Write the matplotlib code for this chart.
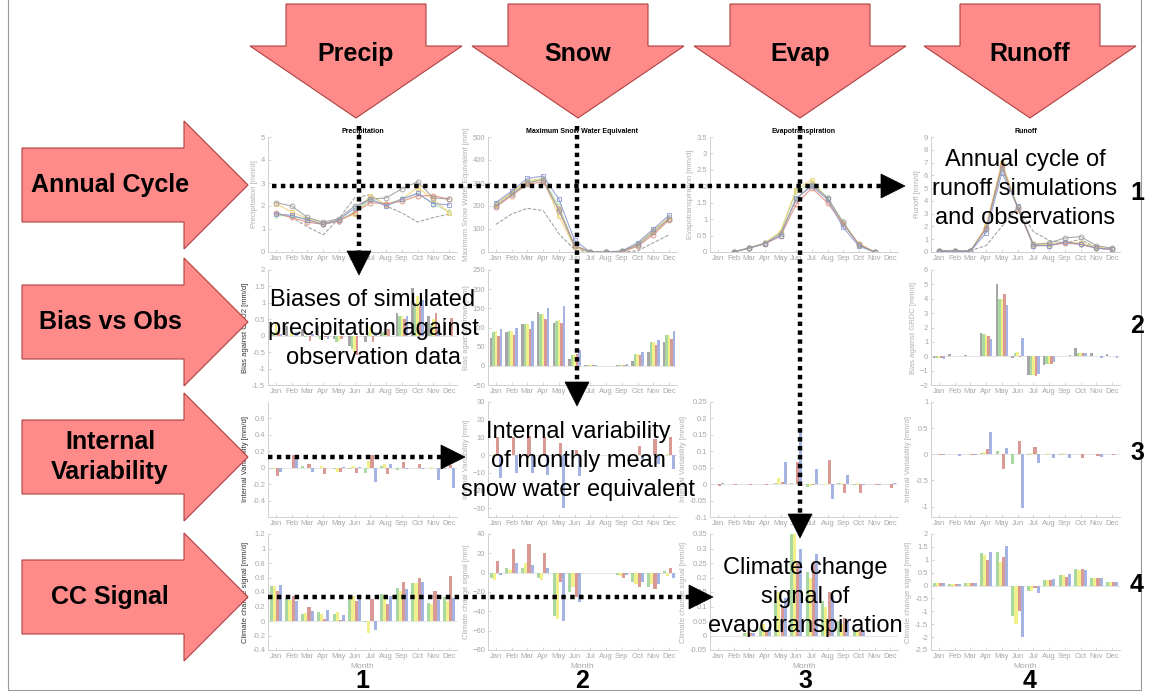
import matplotlib
matplotlib.use('Agg')
import matplotlib.pyplot as plt
from matplotlib.patches import Polygon
import numpy as np

plt.rcParams['font.family'] = ['Liberation Sans', 'DejaVu Sans']

months = ['Jan', 'Feb', 'Mar', 'Apr', 'May', 'Jun', 'Jul', 'Aug', 'Sep', 'Oct', 'Nov', 'Dec']
nan = np.nan

# ---------------- Row 1: annual cycles (lines) ----------------
precip_gray = [2.15, 2.0, 1.5, 1.3, 1.45, 2.0, 2.3, 2.35, 2.75, 3.05, 2.35, 2.3]
precip_blue = [1.65, 1.6, 1.4, 1.2, 1.4, 1.9, 2.3, 2.0, 2.3, 2.55, 2.1, 2.05]
precip_red = [1.7, 1.5, 1.3, 1.2, 1.35, 1.7, 2.15, 2.1, 2.2, 2.45, 2.45, 2.3]
precip_green = [1.6, 1.55, 1.4, 1.2, 1.35, 1.75, 2.25, 2.05, 2.3, 2.55, 2.1, 1.75]
precip_yellow = [2.1, 1.75, 1.45, 1.25, 1.4, 1.65, 2.45, 2.05, 2.3, 2.8, 2.3, 1.7]
precip_obs = [1.7, 1.5, 1.1, 0.75, 1.45, 2.35, 2.5, 2.0, 1.7, 1.3, 1.5, 1.65]

snow_gray = [200, 250, 300, 315, 180, 25, 0, 0, 3, 30, 85, 145]
snow_blue = [215, 265, 320, 330, 230, 50, 0, 0, 5, 40, 100, 160]
snow_red = [195, 245, 295, 305, 185, 30, 0, 0, 0, 25, 75, 140]
snow_green = [210, 255, 305, 315, 200, 25, 0, 0, 3, 35, 90, 145]
snow_yellow = [205, 260, 310, 320, 155, 20, 0, 0, 0, 35, 95, 150]
snow_obs = [120, 165, 190, 180, 80, 10, 0, 0, 0, 5, 40, 75]

evap_gray = [nan, 0.0, 0.12, 0.26, 0.55, 1.6, 2.05, 1.65, 0.9, 0.22, 0.0, nan]
evap_blue = [nan, 0.0, 0.12, 0.25, 0.5, 1.65, 2.0, 1.6, 0.75, 0.18, 0.0, nan]
evap_red = [nan, 0.0, 0.12, 0.25, 0.48, 1.45, 1.95, 1.5, 0.85, 0.25, 0.0, nan]
evap_green = [nan, 0.0, 0.13, 0.27, 0.6, 1.85, 2.1, 1.65, 0.9, 0.22, 0.0, nan]
evap_yellow = [nan, 0.0, 0.13, 0.27, 0.62, 1.9, 2.2, 1.6, 0.85, 0.25, 0.0, nan]

runoff_gray = [0.1, 0.1, 0.1, 1.8, 6.6, 3.5, 0.6, 0.7, 1.1, 1.2, 0.5, 0.3]
runoff_blue = [0.05, 0.05, 0.05, 1.5, 6.2, 3.6, 0.5, 0.5, 0.8, 0.6, 0.3, 0.2]
runoff_red = [0.1, 0.05, 0.05, 1.9, 6.8, 3.4, 0.5, 0.5, 0.7, 0.6, 0.3, 0.2]
runoff_green = [0.1, 0.05, 0.05, 1.95, 6.9, 3.5, 0.55, 0.55, 0.75, 0.65, 0.35, 0.2]
runoff_yellow = [0.1, 0.05, 0.05, 2.0, 7.0, 3.5, 0.6, 0.6, 0.8, 0.7, 0.4, 0.2]
runoff_obs = [0.05, 0.05, 0.1, 0.5, 2.0, 3.5, 1.6, 0.9, 0.7, 1.0, 0.3, 0.2]

# ---------------- Row 2: bias vs obs (gray, green, yellow, red, blue) ----------------
bias_precip = [
    [0.4, 0.3, 0.2, 0.3, -0.1, -0.3, -0.2, 0.3, 0.7, 1.45, 0.6, 0.55],
    [0.1, 0.0, -0.05, -0.1, -0.2, -0.4, 0.1, 0.1, 0.6, 1.0, 0.3, 0.0],
    [0.4, 0.1, 0.0, 0.0, -0.15, -0.5, 0.3, 0.1, 0.6, 1.2, 0.5, 0.0],
    [0.1, 0.0, -0.15, -0.05, -0.1, -0.6, -0.2, 0.2, 0.5, 0.9, 0.7, 0.55],
    [0.05, 0.1, 0.05, -0.1, 0.0, 0.0, 0.1, 0.0, 0.6, 1.1, 0.2, 0.0],
]
bias_snow = [
    [73, 88, 110, 140, 113, 18, 1, 0, 1, 12, 37, 62],
    [87, 90, 108, 135, 118, 27, 1, 0, 3, 32, 63, 80],
    [90, 92, 108, 135, 120, 28, 1, 0, 3, 32, 63, 80],
    [77, 80, 95, 122, 113, 30, 1, 0, 3, 28, 55, 70],
    [95, 100, 117, 150, 155, 42, 1, 0, 4, 35, 68, 90],
]
bias_runoff = [
    [-0.1, 0.15, 0.1, 1.65, 5.0, -0.15, -1.3, -0.6, 0.0, 0.6, 0.25, 0.15],
    [-0.15, 0.05, 0.05, 1.55, 4.0, 0.2, -1.3, -0.55, 0.0, 0.25, 0.0, 0.0],
    [-0.15, 0.05, 0.05, 1.5, 3.95, 0.3, -1.3, -0.55, 0.0, 0.25, 0.0, 0.0],
    [-0.15, 0.05, 0.05, 1.4, 4.3, -0.05, -1.35, -0.55, 0.0, 0.25, 0.0, 0.0],
    [-0.2, 0.05, 0.03, 1.2, 3.6, 1.25, -1.2, -0.4, 0.1, 0.2, -0.1, -0.1],
]

# ---------------- Row 3: internal variability (green, yellow, red, blue) ----------------
iv_precip = [
    [-0.02, 0.0, 0.02, 0.0, -0.02, -0.02, -0.06, 0.02, -0.03, 0.0, 0.0, -0.02],
    [-0.02, 0.0, 0.0, 0.02, -0.05, 0.02, 0.08, 0.04, 0.0, 0.0, 0.01, 0.0],
    [-0.1, 0.16, 0.05, -0.08, -0.05, -0.07, 0.15, -0.08, 0.07, 0.04, 0.0, 0.03],
    [-0.05, 0.12, -0.05, 0.0, 0.01, 0.01, -0.18, 0.05, -0.01, -0.02, -0.15, -0.25],
]
iv_snow = [
    [0, 0, 0, 0, 0, 0, 0, 0, 0, 0, 0, 0],
    [0.5, 0, 0, 0, 0, 0, 0, 0, 0, 0, 0, 0.5],
    [10, 10, 11, 10, 7, 3, 0, 0, 0, 5, 9, 10],
    [-13, -10, -10, -11, -30, -12, 0, 0, 0, -2, -5, -8],
]
iv_evap = [
    [0, 0, 0, 0, 0.003, 0.004, -0.01, 0, 0.002, -0.002, 0, 0],
    [0, 0, 0, 0, 0.018, 0, -0.005, -0.003, 0.003, 0.002, 0, 0],
    [-0.005, -0.003, -0.003, -0.004, 0.008, 0.068, -0.002, 0.073, -0.027, -0.027, -0.004, -0.012],
    [0.003, 0, 0, 0, 0.068, 0.17, 0.045, -0.045, 0.028, -0.003, -0.003, 0.003],
]
iv_runoff = [
    [0, 0, 0, 0.03, 0.06, -0.18, -0.02, 0, -0.02, 0, 0, 0],
    [0, 0, 0, 0.05, 0.0, 0, 0.02, 0.03, 0.02, 0.01, 0, 0],
    [-0.01, 0, -0.01, 0.11, -0.29, 0.25, 0.13, 0, 0, -0.07, -0.04, -0.02],
    [-0.01, -0.03, -0.01, 0.43, 0.12, -1.03, -0.16, -0.07, -0.07, 0.01, -0.05, 0],
]

# ---------------- Row 4: climate change signal (green, yellow, red, blue) ----------------
cc_precip = [
    [0.48, 0.32, 0.09, 0.12, 0.09, 0.36, -0.02, 0.37, 0.45, 0.52, 0.25, 0.33],
    [0.48, 0.29, 0.11, 0.10, 0.12, 0.35, -0.16, 0.36, 0.41, 0.53, 0.24, 0.28],
    [0.42, 0.35, 0.19, 0.03, 0.02, 0.27, 0.30, 0.24, 0.54, 0.59, 0.41, 0.62],
    [0.50, 0.27, 0.14, 0.15, 0.08, 0.32, -0.13, 0.35, 0.44, 0.54, 0.29, 0.32],
]
cc_snow = [
    [-5, 5, 5, -5, -45, -20, 0, 0, -2, -10, -15, 2],
    [-8, 3, 10, -8, -48, -15, 0, 0, -3, -12, -12, -3],
    [12, 25, 30, 20, -10, -25, 0, 0, -5, -15, -17, 5],
    [-2, 10, 8, 5, -50, -30, 0, 0, -2, -10, -12, -5],
]
cc_evap = [
    [0, 0, 0.01, 0.03, 0.12, 0.35, 0.22, 0.12, 0.05, 0.02, 0.0, 0.0],
    [0, 0, 0.01, 0.04, 0.15, 0.36, 0.20, 0.10, 0.04, 0.02, 0.0, 0.0],
    [0, 0, 0.01, 0.02, 0.10, 0.25, 0.25, 0.15, 0.06, 0.02, 0.0, 0.0],
    [0, 0, 0.01, 0.03, 0.13, 0.30, 0.28, 0.14, 0.05, 0.02, 0.0, 0.0],
]
cc_runoff = [
    [0.1, 0.05, 0.1, 1.25, 1.3, -1.2, -0.2, 0.2, 0.4, 0.65, 0.3, 0.15],
    [0.1, 0.05, 0.1, 1.2, 0.9, -1.5, -0.2, 0.2, 0.4, 0.6, 0.3, 0.15],
    [0.1, 0.05, 0.1, 1.0, 1.1, -1.0, -0.1, 0.2, 0.35, 0.65, 0.3, 0.15],
    [0.1, 0.05, 0.1, 1.3, 1.55, -2.0, -0.3, 0.25, 0.45, 0.6, 0.3, 0.15],
]

C_GRAY = '#a6a6a6'
C_GREEN = '#a9d9a0'
C_YELLOW = '#f2f08a'
C_RED = '#d99a95'
C_BLUE = '#a5b3e3'

W, H = 1149, 698
fig = plt.figure(figsize=(W / 100, H / 100), dpi=100)

col_x = [(268, 457), (488, 677), (710, 898), (931, 1120)]
row_y = [(137, 252), (270, 385), (402, 517), (534, 650)]
x = np.arange(1, 13)


def add_ax(r, c):
    x0, x1 = col_x[c]
    y0, y1 = row_y[r]
    ax = fig.add_axes([x0 / W, 1 - y1 / H, (x1 - x0) / W, (y1 - y0) / H])
    for s in ['top', 'right']:
        ax.spines[s].set_visible(False)
    for s in ['left', 'bottom']:
        ax.spines[s].set_color('#d0d0d0')
        ax.spines[s].set_linewidth(0.7)
    ax.tick_params(colors='#d0d0d0', labelcolor='#a8a8a8', labelsize=5.5,
                   length=2, width=0.6, direction='in', pad=2)
    ax.set_xlim(0.5, 12.5)
    ax.set_xticks(x)
    ax.set_xticklabels(months)
    return ax


def style_ylabel(ax, text, dark=False):
    ax.set_ylabel(text, fontsize=5.5, color='#333333' if dark else '#b0b0b0', labelpad=2)


# Row 1 lines
line_sets = [
    (precip_gray, precip_blue, precip_red, precip_green, precip_yellow, precip_obs, (0, 5), np.arange(0, 5.1, 1),
     'Precipitation', 'Precipitation [mm/d]'),
    (snow_gray, snow_blue, snow_red, snow_green, snow_yellow, snow_obs, (0, 500), np.arange(0, 501, 100),
     'Maximum Snow Water Equivalent', 'Maximum Snow Water Equivalent [mm]'),
    (evap_gray, evap_blue, evap_red, evap_green, evap_yellow, None, (0, 3.5), np.arange(0, 3.6, 0.5),
     'Evapotranspiration', 'Evapotranspiration [mm/d]'),
    (runoff_gray, runoff_blue, runoff_red, runoff_green, runoff_yellow, runoff_obs, (0, 9), np.arange(0, 9.1, 1),
     'Runoff', 'Runoff [mm/d]'),
]
for c, (g, b, r_, gr, y_, obs, ylim, yt, title, ylab) in enumerate(line_sets):
    ax = add_ax(0, c)
    if obs is not None:
        ax.plot(x, obs, '--', color='#999999', lw=0.7)
    kw = dict(lw=0.8, ms=3.5, mfc='none', mew=0.7, alpha=0.85)
    ax.plot(x, gr, '-d', color=C_GREEN, **kw)
    ax.plot(x, y_, '-s', color='#f0d070', **kw)
    ax.plot(x, r_, '-o', color='#e08878', **kw)
    ax.plot(x, b, '-s', color='#8898d4', **kw)
    ax.plot(x, g, '-o', color='#9a9a9a', **kw)
    ax.set_ylim(*ylim)
    ax.set_yticks(yt)
    ax.set_yticklabels(['%g' % v for v in yt])
    ax.set_title(title, fontsize=5, fontweight='bold', pad=3)
    style_ylabel(ax, ylab)


def bars(ax, series, colors, total=0.8):
    n = len(series)
    w = total / n
    for i, (vals, col) in enumerate(zip(series, colors)):
        ax.bar(x - total / 2 + w * (i + 0.5), vals, width=w, color=col, lw=0)
    ax.axhline(0, color='#e0e0e0', lw=0.6, zorder=0)


five = [C_GRAY, C_GREEN, C_YELLOW, C_RED, C_BLUE]
four = [C_GREEN, C_YELLOW, C_RED, C_BLUE]

# Row 2
ax = add_ax(1, 0)
bars(ax, bias_precip, five)
ax.set_ylim(-1.5, 2)
yt = np.arange(-1.5, 2.01, 0.5)
ax.set_yticks(yt); ax.set_yticklabels(['%g' % v for v in yt])
style_ylabel(ax, 'Bias against CRU2 [mm/d]', dark=True)

ax = add_ax(1, 1)
bars(ax, bias_snow, five)
ax.set_ylim(-50, 250)
ax.set_yticks(np.arange(-50, 251, 50))
style_ylabel(ax, 'Bias against Brown [mm]')

ax = add_ax(1, 3)
bars(ax, bias_runoff, five)
ax.set_ylim(-2, 6)
ax.set_yticks(np.arange(-2, 7, 1))
style_ylabel(ax, 'Bias against GRDC [mm/d]')

# Row 3
ax = add_ax(2, 0)
bars(ax, iv_precip, four)
ax.set_ylim(-0.6, 0.8)
yt = np.arange(-0.4, 0.61, 0.2)
ax.set_yticks(yt); ax.set_yticklabels(['%g' % round(v, 1) for v in yt])
style_ylabel(ax, 'Internal Variability [mm/d]', dark=True)

ax = add_ax(2, 1)
bars(ax, iv_snow, four)
ax.set_ylim(-35, 30)
ax.set_yticks(np.arange(-30, 31, 10))
style_ylabel(ax, 'Internal Variability [mm]')

ax = add_ax(2, 2)
bars(ax, iv_evap, four)
ax.set_ylim(-0.1, 0.25)
yt = np.arange(-0.1, 0.251, 0.05)
ax.set_yticks(yt); ax.set_yticklabels(['%g' % round(v, 2) for v in yt])
style_ylabel(ax, 'Internal Variability [mm/d]')

ax = add_ax(2, 3)
bars(ax, iv_runoff, four)
ax.set_ylim(-1.2, 1)
yt = np.arange(-1, 1.01, 0.5)
ax.set_yticks(yt); ax.set_yticklabels(['%g' % v for v in yt])
style_ylabel(ax, 'Internal Variability [mm/d]')

# Row 4
ax = add_ax(3, 0)
bars(ax, cc_precip, four)
ax.set_ylim(-0.4, 1.2)
yt = np.arange(-0.4, 1.21, 0.2)
ax.set_yticks(yt); ax.set_yticklabels(['%g' % round(v, 1) for v in yt])
style_ylabel(ax, 'Climate change signal [mm/d]', dark=True)

ax = add_ax(3, 1)
bars(ax, cc_snow, four)
ax.set_ylim(-80, 40)
ax.set_yticks(np.arange(-80, 41, 20))
style_ylabel(ax, 'Climate change signal [mm]')

ax = add_ax(3, 2)
bars(ax, cc_evap, four)
ax.set_ylim(-0.05, 0.35)
yt = np.arange(-0.05, 0.351, 0.05)
ax.set_yticks(yt); ax.set_yticklabels(['%g' % round(v, 2) for v in yt])
style_ylabel(ax, 'Climate change signal [mm/d]')

ax = add_ax(3, 3)
bars(ax, cc_runoff, four)
ax.set_ylim(-2.5, 2)
yt = np.arange(-2.5, 2.01, 0.5)
ax.set_yticks(yt); ax.set_yticklabels(['%g' % v for v in yt])
style_ylabel(ax, 'Climate change signal [mm/d]')

for c in range(4):
    fig.axes[-4 + c].set_xlabel('Month', fontsize=6, color='#a8a8a8', labelpad=2)

# ---------------- Overlay ----------------
ov = fig.add_axes([0, 0, 1, 1], zorder=10)
ov.set_xlim(0, W)
ov.set_ylim(H, 0)
ov.axis('off')
ov.patch.set_alpha(0)

ARROW_FC = '#ff8a8a'
ARROW_EC = '#b04040'

# border
ov.plot([8, 8, 1141, 1141], [0, 690, 690, 0], color='#999999', lw=0.8)

# top arrows
top_labels = ['Precip', 'Snow', 'Evap', 'Runoff']
top_cx = [356, 578, 800, 1030]
for lab, cx in zip(top_labels, top_cx):
    pts = [(cx - 70, 4), (cx + 70, 4), (cx + 70, 46), (cx + 106, 46), (cx, 118),
           (cx - 106, 46), (cx - 70, 46)]
    ov.add_patch(Polygon(pts, closed=True, fc=ARROW_FC, ec=ARROW_EC, lw=0.8))
    ov.text(cx, 54, lab, fontsize=18, fontweight='bold', ha='center', va='center')

# left arrows
left_labels = ['Annual Cycle', 'Bias vs Obs', 'Internal\nVariability', 'CC Signal']
left_cy = [185, 322, 457, 597]
for lab, cy in zip(left_labels, left_cy):
    pts = [(22, cy - 37), (184, cy - 37), (184, cy - 64), (248, cy), (184, cy + 64),
           (184, cy + 37), (22, cy + 37)]
    ov.add_patch(Polygon(pts, closed=True, fc=ARROW_FC, ec=ARROW_EC, lw=0.8))
    ov.text(110, cy, lab, fontsize=18, fontweight='bold', ha='center', va='center',
            linespacing=1.3)

# dotted arrows
def dotted(x0, y0, x1, y1):
    ov.plot([x0, x1], [y0, y1], color='k', lw=3.2, linestyle=(0, (1, 1)),
            dash_capstyle='butt', solid_capstyle='butt')


def head(x1, y1, d):
    L, hw = 24, 12
    if d == 'right':
        pts = [(x1 - L, y1 - hw), (x1, y1), (x1 - L, y1 + hw)]
    else:
        pts = [(x1 - hw, y1 - L), (x1, y1), (x1 + hw, y1 - L)]
    ov.add_patch(Polygon(pts, closed=True, fc='k', ec='k', lw=0.5))


dotted(272, 186, 882, 186); head(905, 186, 'right')
dotted(359, 126, 359, 252); head(359, 275, 'down')
dotted(577, 126, 577, 382); head(577, 406, 'down')
dotted(800, 126, 800, 514); head(800, 538, 'down')
dotted(268, 457, 442, 457); head(465, 457, 'right')
dotted(268, 597, 690, 597); head(713, 597, 'right')

# overlay descriptive texts
TXT_KW = dict(fontsize=17, ha='center', va='center', linespacing=1.4)
ov.text(1025, 189, 'Annual cycle of\nrunoff simulations\nand observations', **TXT_KW)
ov.text(373, 329, 'Biases of simulated\nprecipitation against\nobservation data', **TXT_KW)
ov.text(578, 461, 'Internal variability\nof monthly mean\nsnow water equivalent', **TXT_KW)
ov.text(805, 597, 'Climate change\nsignal of\nevapotranspiration', **TXT_KW)

# numbers
for n, cy in zip(['1', '2', '3', '4'], [193, 326, 453, 585]):
    ov.text(1137, cy, n, fontsize=18, fontweight='bold', ha='center', va='center')
for n, cx in zip(['1', '2', '3', '4'], [362, 582, 805, 1030]):
    ov.text(cx, 681, n, fontsize=18, fontweight='bold', ha='center', va='center')

fig.savefig('out.png', dpi=100)
